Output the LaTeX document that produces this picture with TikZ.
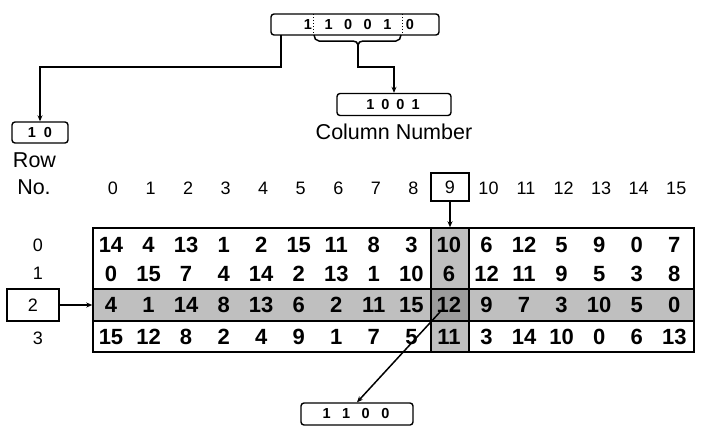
\documentclass[tikz,border=0pt]{standalone}
\usepackage{fontspec}
\setmainfont{Liberation Sans}
\usetikzlibrary{arrows.meta,calc}
\definecolor{bandgray}{HTML}{BFBFBF}
\definecolor{darkgray2}{HTML}{9C9C9C}
\begin{document}
\begin{tikzpicture}[x=1pt,y=-1pt,
 bitbox/.style={draw, line width=1.4pt, rounded corners=3pt, inner sep=0pt},
 bits/.style={font=\fontsize{14.5}{14}\selectfont\bfseries, inner sep=0pt},
 hdr/.style={font=\fontsize{18}{18}\selectfont, inner sep=0pt},
 val/.style={font=\fontsize{22}{22}\selectfont\bfseries, inner sep=0pt},
 lbl/.style={font=\fontsize{21.5}{21}\selectfont, inner sep=0pt},
 frame/.style={draw, line width=1.5pt, inner sep=0pt},
 conn/.style={line width=1.5pt},
 arr/.style={conn, -{Stealth[length=6pt,width=5pt]}},
 ]
\useasboundingbox (0,0) rectangle (702,432);
% ---------- top bit string ----------
\node[bitbox, minimum width=168pt, minimum height=21pt] (top) at (355,24.5) {};
\node[bits] (tb1) at (308,24.5) {1};
\node[bits] (tbm) at (358,24.5) {1\hspace{11.5pt}0\hspace{11.5pt}0\hspace{11.5pt}1};
\node[bits] (tb0) at (410,24.5) {0};
\draw[dotted, line width=1pt] (313,14) -- (313,35);
\draw[dotted, line width=1pt] (402,14) -- (402,35);
% brace
\coordinate (bt) at (358,45);
\draw[conn] (314,35) to[out=-90,in=180] (319,41) -- (353,41) to[out=0,in=90] (bt)
 to[out=90,in=180] (363,41) -- (396,41) to[out=0,in=-90] (401,35);
% column bits box
\node[bitbox, minimum width=114pt, minimum height=22pt] (colbits) at (394,104.5) {};
\node[bits] (colbitst) at (393,104.5) {1\hspace{7pt}0\hspace{7pt}0\hspace{7pt}1};
\node[lbl] (collbl) at (394,132) {Column Number};
\coordinate (k1) at (358,67);
\draw[arr] (bt) -- (k1) -| (colbits.north);
% row bits box
\node[bitbox, minimum width=56pt, minimum height=21pt] (rowbits) at (40,132.5) {};
\node[bits] (rowbitst) at (40,132.5) {1\hspace{8pt}0};
\node[lbl] (rowlbl) at (34.5,160) {Row};
\node[lbl] (nolbl) at (34,187) {No.};
\coordinate (k2) at (281,35);
\coordinate (k3) at (281,67);
\draw[arr] (k2) -- (k3) -| (rowbits.north);
% ---------- column headers ----------
\foreach \c in {0,...,8,10,11,12,13,14,15}{
  \node[hdr] (h\c) at ({113+37.55*\c},188) {\c};
}
\node[frame, hdr, minimum width=38pt, minimum height=28pt] (h9) at (450,187) {9};
% ---------- table ----------
\fill[bandgray] (93,289) rectangle (694,321);
\fill[bandgray] (431,228) rectangle (469,352);
\fill[darkgray2] (431,289) rectangle (469,321);
\node[frame, minimum width=601pt, minimum height=124pt] (table) at (393.5,290) {};
\draw[line width=1.5pt] (431,228) -- (431,352);
\draw[line width=1.5pt] (469,228) -- (469,352);
\draw[line width=2.5pt] (93,289) -- (694,289);
\draw[line width=2.5pt] (93,321) -- (694,321);
\node[draw, line width=2.5pt, minimum width=38pt, minimum height=32pt, inner sep=0pt] (cell) at (450,305) {};
\foreach \vals/\y [count=\r from 0] in {
  {14,4,13,1,2,15,11,8,3,10,6,12,5,9,0,7}/245,
  {0,15,7,4,14,2,13,1,10,6,12,11,9,5,3,8}/274,
  {4,1,14,8,13,6,2,11,15,12,9,7,3,10,5,0}/305,
  {15,12,8,2,4,9,1,7,5,11,3,14,10,0,6,13}/337}{
  \foreach \v [count=\c from 0] in \vals {
    \node[val] (v-\r-\c) at ({111+37.55*\c},\y) {\v};
  }
}
% row labels
\node[hdr] (r0) at (38,245) {0};
\node[hdr] (r1) at (38,273) {1};
\node[frame, hdr, minimum width=52pt, minimum height=32pt] (r2) at (33,305) {2};
\node[hdr] (r3) at (38,338) {3};
% arrows into table
\draw[arr] (h9.south) -- (h9.south |- table.north);
\draw[arr] (r2.east) -- (r2.east -| table.west);
% result bits
\node[bitbox, minimum width=112pt, minimum height=22pt] (resbits) at (357,414) {};
\node[bits] (resbitst) at (356,414) {1\hspace{11.5pt}1\hspace{11.5pt}0\hspace{11.5pt}0};
\coordinate (cs) at ($(cell.center)+(-10,7)$);
\draw[arr] (cs) -- (resbits.north);
\end{tikzpicture}
\end{document}
